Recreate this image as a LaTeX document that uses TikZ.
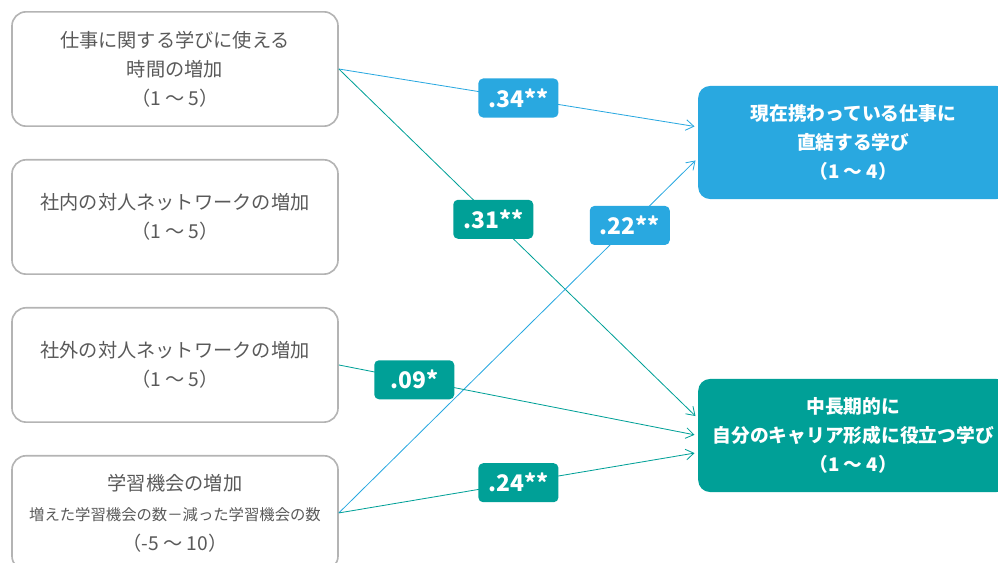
\documentclass[tikz,border=0pt]{standalone}
\usepackage{fontspec}
\usepackage{tikz}
\usetikzlibrary{positioning, arrows.meta}
\newfontfamily\jp{Noto Sans CJK JP}
\definecolor{skyblue}{HTML}{29A8E0}
\definecolor{pathgreen}{HTML}{00A097}
\definecolor{framegray}{HTML}{B4B4B4}
\definecolor{textgray}{HTML}{595959}

\begin{document}
\begin{tikzpicture}[
		x = 0.03cm, y = -0.03cm,
		every node/.style = {font = \jp, align = center},
		factor/.style = {draw = framegray, line width = 1.4pt, rounded corners = 12pt,
			minimum width = 9.78cm, minimum height = 3.43cm, text = textgray,
			font = \jp\fontsize{16.4}{24.7}\selectfont},
		outcome/.style = {fill = #1, rounded corners = 10pt, minimum width = 9.3cm,
			minimum height = 3.39cm, text = white, font = \jp\bfseries\fontsize{16}{24.7}\selectfont},
		coef/.style = {fill = #1, rounded corners = 4pt, inner sep = 0pt,
			minimum width = 2.4cm, minimum height = 1.17cm, text = white,
			font = \jp\bfseries\fontsize{19.5}{22}\selectfont},
		link/.style = {draw = #1, line width = .7pt, shorten > = 3pt,
			-{Straight Barb[length = 2.4mm, width = 3.2mm]}}
		]
		\useasboundingbox (0,0) rectangle (998,563);
		% left side
		\node[factor] (time) at (175,69) {仕事に関する学びに使える\\時間の増加\\（1 ～ 5）};
		\node[factor, below = 0.96cm of time] (inner) {社内の対人ネットワークの増加\\（1 ～ 5）};
		\node[factor, below = 0.96cm of inner] (outer) {社外の対人ネットワークの増加\\（1 ～ 5）};
		\node[factor, below = 0.96cm of outer] (chance) {学習機会の増加\\[1pt]
			{\fontsize{13.1}{24.7}\selectfont 増えた学習機会の数－減った学習機会の数}\\[1pt]（-5 ～ 10）};
		% right side
		\node[outcome = skyblue, anchor = west] (direct) at (698,142.5) {現在携わっている仕事に\\直結する学び\\（1 ～ 4）};
		\node[outcome = pathgreen, anchor = west] (career) at (698,435.5) {中長期的に\\自分のキャリア形成に役立つ学び\\（1 ～ 4）};
		
		\coordinate (d1) at ([yshift = 0.465cm]direct.west);
		\coordinate (d2) at ([yshift = -0.465cm]direct.west);
		\coordinate (g1) at ([yshift = 0.51cm]career.west);
		\coordinate (g2) at (career.west);
		\coordinate (g3) at ([yshift = -0.51cm]career.west);
		
		% paths
		\draw[link = skyblue] (time.east) -- node[coef = skyblue] (c34) {.34**} (d1);
		\draw[link = pathgreen] (time.east) -- node[coef = pathgreen, pos = .43] (c31) {.31**} (g1);
		\draw[link = skyblue] (chance.east) -- node[coef = skyblue, pos = .81] (c22) {.22**} (d2);
		\draw[link = pathgreen] (outer.east) -- node[coef = pathgreen, pos = .21] (c09) {.09*} (g2);
		\draw[link = pathgreen] (chance.east) -- node[coef = pathgreen, pos = .5] (c24) {.24**} (g3);
	\end{tikzpicture}
\end{document}
